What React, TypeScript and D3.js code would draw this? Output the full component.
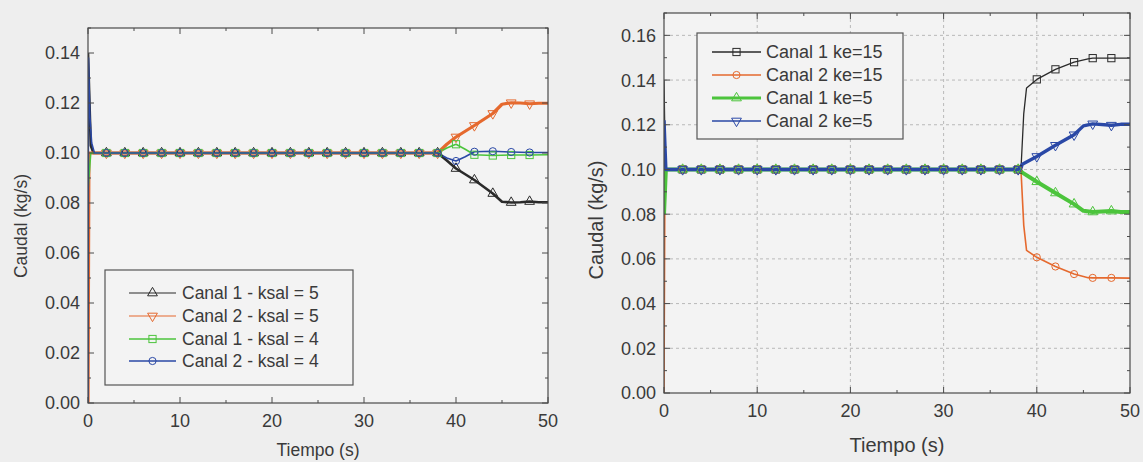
import React from "react";
import * as d3 from "d3";

// ---------------- DATA ----------------
type P = [number, number];

// Left chart: Canal 1/2, ksal = 5 / 4
const leftC1k5: P[] = [
  [0, 0.14], [0.3, 0.103], [0.6, 0.1], [2, 0.1], [4, 0.1], [6, 0.1], [8, 0.1], [10, 0.1], [12, 0.1],
  [14, 0.1], [16, 0.1], [18, 0.1], [20, 0.1], [22, 0.1], [24, 0.1], [26, 0.1], [28, 0.1], [30, 0.1],
  [32, 0.1], [34, 0.1], [36, 0.1], [38, 0.1], [39, 0.097], [40, 0.0938], [42, 0.0892], [44, 0.0838],
  [45, 0.0805], [46, 0.0802], [47, 0.0803], [48, 0.0806], [49, 0.0803], [50, 0.0803],
];
const leftC2k5: P[] = [
  [0, 0.0], [0.1, 0.1], [2, 0.1], [4, 0.1], [6, 0.1], [8, 0.1], [10, 0.1], [12, 0.1],
  [14, 0.1], [16, 0.1], [18, 0.1], [20, 0.1], [22, 0.1], [24, 0.1], [26, 0.1], [28, 0.1], [30, 0.1],
  [32, 0.1], [34, 0.1], [36, 0.1], [38, 0.1], [39, 0.1035], [40, 0.1064], [42, 0.111], [44, 0.1158],
  [45, 0.1195], [46, 0.1201], [47, 0.12], [48, 0.1197], [49, 0.1199], [50, 0.1199],
];
const leftC1k4: P[] = [
  [0, 0.085], [0.3, 0.1], [2, 0.1], [4, 0.1], [6, 0.1], [8, 0.1], [10, 0.1], [12, 0.1],
  [14, 0.1], [16, 0.1], [18, 0.1], [20, 0.1], [22, 0.1], [24, 0.1], [26, 0.1], [28, 0.1], [30, 0.1],
  [32, 0.1], [34, 0.1], [36, 0.1], [38, 0.1], [39, 0.102], [40, 0.1035], [41, 0.1015], [42, 0.0993],
  [44, 0.099], [46, 0.0992], [48, 0.0992], [50, 0.0993],
];
const leftC2k4: P[] = [
  [0, 0.0], [0.05, 0.138], [0.2, 0.115], [0.4, 0.104], [0.7, 0.1], [2, 0.1], [4, 0.1], [6, 0.1],
  [8, 0.1], [10, 0.1], [12, 0.1], [14, 0.1], [16, 0.1], [18, 0.1], [20, 0.1], [22, 0.1], [24, 0.1],
  [26, 0.1], [28, 0.1], [30, 0.1], [32, 0.1], [34, 0.1], [36, 0.1], [38, 0.1], [39, 0.098],
  [40, 0.0968], [41, 0.0985], [42, 0.1005], [44, 0.1007], [46, 0.1004], [48, 0.1002], [50, 0.1002],
];

// Right chart: Canal 1/2, ke = 15 / 5
const rightC1k15: P[] = [
  [0, 0.14], [0.15, 0.1], [2, 0.1], [4, 0.1], [6, 0.1], [8, 0.1], [10, 0.1], [12, 0.1],
  [14, 0.1], [16, 0.1], [18, 0.1], [20, 0.1], [22, 0.1], [24, 0.1], [26, 0.1], [28, 0.1], [30, 0.1],
  [32, 0.1], [34, 0.1], [36, 0.1], [38, 0.1], [38.3, 0.1], [38.6, 0.125], [38.9, 0.1365],
  [40, 0.1403], [42, 0.1448], [44, 0.148], [45.5, 0.1495], [46, 0.1498], [48, 0.1498], [50, 0.1498],
];
const rightC2k15: P[] = [
  [0, 0.0], [0.1, 0.1], [2, 0.1], [4, 0.1], [6, 0.1], [8, 0.1], [10, 0.1], [12, 0.1],
  [14, 0.1], [16, 0.1], [18, 0.1], [20, 0.1], [22, 0.1], [24, 0.1], [26, 0.1], [28, 0.1], [30, 0.1],
  [32, 0.1], [34, 0.1], [36, 0.1], [38, 0.1], [38.3, 0.1], [38.6, 0.075], [38.9, 0.0638],
  [40, 0.0607], [42, 0.0566], [44, 0.0532], [45.5, 0.0516], [46, 0.0515], [48, 0.0515], [50, 0.0514],
];
const rightC1k5: P[] = [
  [0, 0.08], [0.2, 0.1], [2, 0.1], [4, 0.1], [6, 0.1], [8, 0.1], [10, 0.1], [12, 0.1],
  [14, 0.1], [16, 0.1], [18, 0.1], [20, 0.1], [22, 0.1], [24, 0.1], [26, 0.1], [28, 0.1], [30, 0.1],
  [32, 0.1], [34, 0.1], [36, 0.1], [38, 0.1], [38.5, 0.0985], [40, 0.0945], [42, 0.0895],
  [44, 0.0845], [45, 0.0815], [46, 0.081], [48, 0.0814], [49, 0.081], [50, 0.081],
];
const rightC2k5: P[] = [
  [0, 0.122], [0.2, 0.1], [2, 0.1], [4, 0.1], [6, 0.1], [8, 0.1], [10, 0.1], [12, 0.1],
  [14, 0.1], [16, 0.1], [18, 0.1], [20, 0.1], [22, 0.1], [24, 0.1], [26, 0.1], [28, 0.1], [30, 0.1],
  [32, 0.1], [34, 0.1], [36, 0.1], [38, 0.1], [38.5, 0.1025], [40, 0.1058], [42, 0.1108],
  [44, 0.1155], [45, 0.1195], [46, 0.1204], [48, 0.1198], [49, 0.1202], [50, 0.1202],
];

const leftLabels = ["Canal 1 - ksal = 5", "Canal 2 - ksal = 5", "Canal 1 - ksal = 4", "Canal 2 - ksal = 4"];
const rightLabels = ["Canal 1 ke=15", "Canal 2 ke=15", "Canal 1 ke=5", "Canal 2 ke=5"];

const xTicks = [0, 10, 20, 30, 40, 50];
const leftYTicks = [0, 0.02, 0.04, 0.06, 0.08, 0.1, 0.12, 0.14];
const rightYTicks = [0, 0.02, 0.04, 0.06, 0.08, 0.1, 0.12, 0.14, 0.16];

const xTitle = "Tiempo (s)";
const yTitle = "Caudal (kg/s)";

// ---------------- STYLE ----------------
const FONT = "'Liberation Sans', Arial, Helvetica, sans-serif";
const TXT = "#3a3a3a";
const AX = "#4a4a4a";
const BLACK = "#2a2a2a";
const ORANGE = "#e5692e";
const GREEN = "#4cc43c";
const BLUE = "#2a48a6";

type Shape = "up" | "down" | "square" | "circle";
interface Series { data: P[]; color: string; width: number; shape: Shape; label: string; legendWidth: number; }

function Marker({ shape, x, y, color, r = 3.6 }: { shape: Shape; x: number; y: number; color: string; r?: number }) {
  const common = { fill: "none", stroke: color, strokeWidth: 1 };
  if (shape === "circle") return <circle cx={x} cy={y} r={r} {...common} />;
  if (shape === "square") return <rect x={x - r} y={y - r} width={2 * r} height={2 * r} {...common} />;
  const sym = d3.symbol().type(d3.symbolTriangle).size(r * r * 3.2)();
  return <path d={sym || ""} transform={`translate(${x},${y}) rotate(${shape === "down" ? 180 : 0})`} {...common} />;
}

interface ChartProps {
  left: number; top: number; right: number; bottom: number;
  yMax: number; yTicks: number[]; series: Series[]; grid: boolean;
  tickFont: number; xLabelY: number; titleFont: number; xTitleY: number; yTitleX: number; yTitleY: number;
  legend: { x: number; y: number; w: number; h: number; rowY: number[]; lineX0: number; lineX1: number; textX: number; font: number };
}

function Chart(p: ChartProps) {
  const x = d3.scaleLinear().domain([0, 50]).range([p.left, p.right]);
  const y = d3.scaleLinear().domain([0, p.yMax]).range([p.bottom, p.top]);
  const line = d3.line<P>().x((d) => x(d[0])).y((d) => y(d[1]));
  const minorX = d3.range(0, 50.001, 5);
  const minorY = d3.range(0, p.yMax + 1e-9, 0.01);
  const fmt = d3.format(".2f");
  const isMarkerT = (t: number) => Number.isInteger(t) && t % 2 === 0 && t >= 2 && t <= 48;
  return (
    <g>
      <rect x={p.left} y={p.top} width={p.right - p.left} height={p.bottom - p.top} fill="#f3f3f3" />
      {p.grid && (
        <g stroke="#a9a9a9" strokeWidth={0.8} strokeDasharray="3,3">
          {xTicks.slice(1, -1).map((t) => <line key={"gx" + t} x1={x(t)} x2={x(t)} y1={p.top} y2={p.bottom} />)}
          {p.yTicks.slice(1).map((t) => <line key={"gy" + t} x1={p.left} x2={p.right} y1={y(t)} y2={y(t)} />)}
        </g>
      )}
      <defs>
        <clipPath id={"clip" + p.left}>
          <rect x={p.left} y={p.top - 2} width={p.right - p.left} height={p.bottom - p.top + 2} />
        </clipPath>
      </defs>
      <g clipPath={`url(#clip${p.left})`}>
        {p.series.map((s, i) => (
          <path key={"l" + i} d={line(s.data) || ""} fill="none" stroke={s.color} strokeWidth={s.width} strokeLinejoin="round" />
        ))}
        {p.series.map((s, i) => (
          <g key={"m" + i}>
            {s.data.filter((d) => isMarkerT(d[0])).map((d, j) => (
              <Marker key={j} shape={s.shape} x={x(d[0])} y={y(d[1])} color={s.color} />
            ))}
          </g>
        ))}
      </g>
      {/* frame */}
      <rect x={p.left} y={p.top} width={p.right - p.left} height={p.bottom - p.top} fill="none" stroke={AX} strokeWidth={1.2} />
      {/* ticks */}
      <g stroke={AX} strokeWidth={1}>
        {minorX.map((t) => {
          const L = t % 10 === 0 ? 6 : 3;
          return (
            <g key={"tx" + t}>
              <line x1={x(t)} x2={x(t)} y1={p.bottom} y2={p.bottom - L} />
              <line x1={x(t)} x2={x(t)} y1={p.top} y2={p.top + L} />
            </g>
          );
        })}
        {minorY.map((t, i) => {
          const L = i % 2 === 0 ? 6 : 3;
          return (
            <g key={"ty" + i}>
              <line x1={p.left} x2={p.left + L} y1={y(t)} y2={y(t)} />
              <line x1={p.right} x2={p.right - L} y1={y(t)} y2={y(t)} />
            </g>
          );
        })}
      </g>
      <g fontFamily={FONT} fontSize={p.tickFont} fill={TXT}>
        {xTicks.map((t) => (
          <text key={"xl" + t} x={x(t)} y={p.xLabelY} textAnchor="middle">{t}</text>
        ))}
        {p.yTicks.map((t) => (
          <text key={"yl" + t} x={p.left - 8} y={y(t)} dy="0.36em" textAnchor="end">{fmt(t)}</text>
        ))}
      </g>
      <text x={(p.left + p.right) / 2} y={p.xTitleY} textAnchor="middle" fontFamily={FONT} fontSize={p.titleFont} fill={TXT}>{xTitle}</text>
      <text transform={`translate(${p.yTitleX},${p.yTitleY}) rotate(-90)`} textAnchor="middle" fontFamily={FONT} fontSize={p.titleFont} fill={TXT}>{yTitle}</text>
      {/* legend */}
      <rect x={p.legend.x} y={p.legend.y} width={p.legend.w} height={p.legend.h} fill="#f3f3f3" stroke="#555" strokeWidth={1.2} />
      {p.series.map((s, i) => {
        const cy = p.legend.rowY[i];
        return (
          <g key={"lg" + i}>
            <line x1={p.legend.lineX0} x2={p.legend.lineX1} y1={cy} y2={cy} stroke={s.color} strokeWidth={s.legendWidth} />
            <Marker shape={s.shape} x={(p.legend.lineX0 + p.legend.lineX1) / 2} y={cy} color={s.color} />
            <text x={p.legend.textX} y={cy} dy="0.36em" fontFamily={FONT} fontSize={p.legend.font} fill={TXT}>{s.label}</text>
          </g>
        );
      })}
    </g>
  );
}

export default function App() {
  const leftSeries: Series[] = [
    { data: leftC1k5, color: BLACK, width: 2.6, shape: "up", label: leftLabels[0], legendWidth: 1.2 },
    { data: leftC2k5, color: ORANGE, width: 3.2, shape: "down", label: leftLabels[1], legendWidth: 1.2 },
    { data: leftC1k4, color: GREEN, width: 1.6, shape: "square", label: leftLabels[2], legendWidth: 1.6 },
    { data: leftC2k4, color: BLUE, width: 1.6, shape: "circle", label: leftLabels[3], legendWidth: 1.4 },
  ];
  const rightSeries: Series[] = [
    { data: rightC1k15, color: BLACK, width: 1.3, shape: "square", label: rightLabels[0], legendWidth: 1.3 },
    { data: rightC2k15, color: ORANGE, width: 1.6, shape: "circle", label: rightLabels[1], legendWidth: 1.4 },
    { data: rightC1k5, color: GREEN, width: 4, shape: "up", label: rightLabels[2], legendWidth: 3 },
    { data: rightC2k5, color: BLUE, width: 3.4, shape: "down", label: rightLabels[3], legendWidth: 1.6 },
  ];
  return (
    <svg width={1143} height={462} style={{ position: "fixed", left: 0, top: 0, background: "#eeeeee" }}>
      <rect x={0} y={0} width={1143} height={462} fill="#eeeeee" />
      <Chart
        left={88} top={28} right={548} bottom={403} yMax={0.15} yTicks={leftYTicks} series={leftSeries} grid={false}
        tickFont={18} xLabelY={427} titleFont={17.5} xTitleY={456} yTitleX={27} yTitleY={226}
        legend={{ x: 105, y: 270, w: 248, h: 115, rowY: [293, 316, 339, 361], lineX0: 129, lineX1: 176, textX: 182, font: 17.5 }}
      />
      <Chart
        left={664} top={13} right={1130} bottom={393} yMax={0.17} yTicks={rightYTicks} series={rightSeries} grid={true}
        tickFont={18} xLabelY={417} titleFont={20} xTitleY={452} yTitleX={603} yTitleY={220}
        legend={{ x: 697, y: 33, w: 206, h: 106, rowY: [52, 75, 98, 121], lineX0: 712, lineX1: 761, textX: 766, font: 18 }}
      />
    </svg>
  );
}
